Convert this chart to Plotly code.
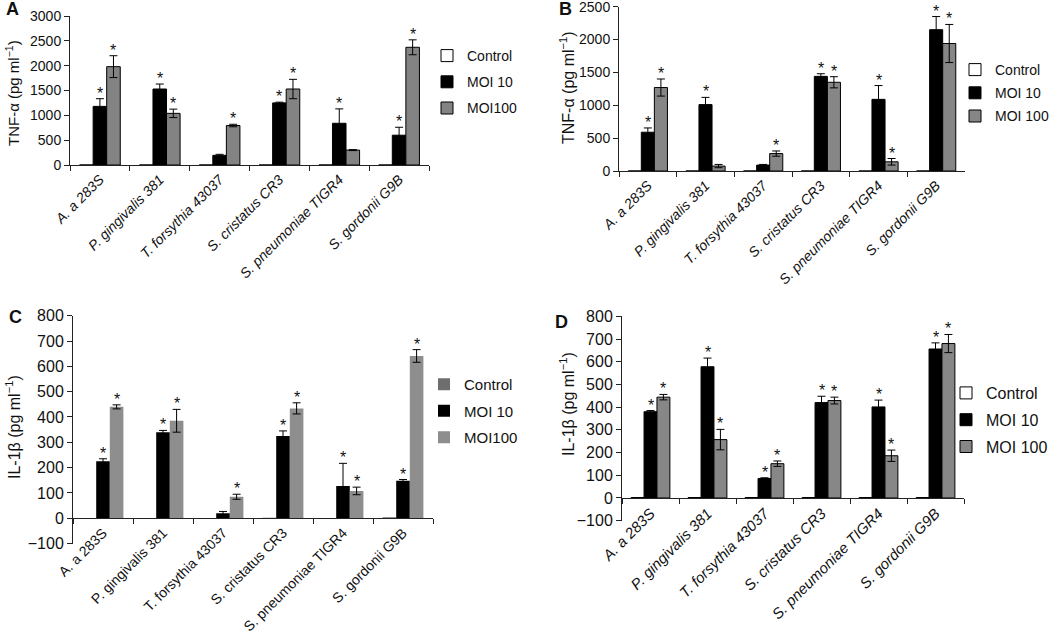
import plotly.graph_objects as go

# ---------------- data ----------------
categories = ["A. a 283S", "P. gingivalis 381", "T. forsythia 43037",
              "S. cristatus CR3", "S. pneumoniae TIGR4", "S. gordonii G9B"]

# Panel A: TNF-alpha
a_ctrl = [0, 0, 0, 0, 0, 0]
a_moi10 = [1180, 1530, 195, 1250, 840, 600]
a_moi10_err = [155, 100, 20, 15, 290, 160]
a_moi100 = [1980, 1040, 795, 1530, 300, 2370]
a_moi100_err = [220, 85, 25, 195, 10, 150]
a_sig10 = [1, 1, 0, 1, 1, 1]
a_sig100 = [1, 1, 1, 1, 0, 1]

# Panel B: TNF-alpha
b_ctrl = [0, 0, 0, 0, 0, 0]
b_moi10 = [590, 1010, 90, 1440, 1090, 2150]
b_moi10_err = [65, 110, 10, 40, 210, 200]
b_moi100 = [1270, 75, 265, 1350, 140, 1940]
b_moi100_err = [130, 25, 40, 85, 50, 290]
b_sig10 = [1, 1, 0, 1, 1, 1]
b_sig100 = [1, 0, 1, 1, 1, 1]

# Panel C: IL-1beta
c_ctrl = [0, 0, 0, 2, 0, 4]
c_moi10 = [225, 340, 20, 325, 127, 148]
c_moi10_err = [10, 7, 7, 20, 90, 5]
c_moi100 = [440, 385, 85, 434, 108, 641]
c_moi100_err = [8, 45, 10, 22, 15, 25]
c_sig10 = [1, 1, 0, 1, 1, 1]
c_sig100 = [1, 1, 1, 1, 1, 1]

# Panel D: IL-1beta
d_ctrl = [2, 2, 2, 2, 2, 2]
d_moi10 = [380, 578, 86, 420, 401, 656]
d_moi10_err = [5, 38, 3, 28, 30, 27]
d_moi100 = [444, 257, 151, 429, 186, 680]
d_moi100_err = [12, 45, 12, 15, 25, 40]
d_sig10 = [1, 1, 1, 1, 1, 1]
d_sig100 = [1, 1, 1, 1, 1, 1]

W, H = 1050, 640
FONT = "Arial, Liberation Sans, sans-serif"
BARGAP = 0.32


def fx(px):
    return px / W


def fy(py):
    return 1 - py / H


panels = [
    dict(key="", letter="A", ctrl=a_ctrl, m10=a_moi10, e10=a_moi10_err, m100=a_moi100, e100=a_moi100_err,
         s10=a_sig10, s100=a_sig100, n100="MOI100", xpx=(70, 429), ypx=(165, 16), yr=[0, 3000], dt=500,
         ctrl_col="white", g_col="#838383", outline=1, italic=True, tfs=14, xfs=14,
         title="TNF-α (pg ml<sup>−1</sup>)", tpos=(13, 93), tfsz=15, lpos=(427, 40), lfs=14, lgap=5,
         lpx=(12, 9)),
    dict(key="2", letter="B", ctrl=b_ctrl, m10=b_moi10, e10=b_moi10_err, m100=b_moi100, e100=b_moi100_err,
         s10=b_sig10, s100=b_sig100, n100="MOI 100", xpx=(619, 965), ypx=(171, 6.7), yr=[0, 2500], dt=500,
         ctrl_col="white", g_col="#868686", outline=1, italic=True, tfs=14, xfs=14,
         title="TNF-α (pg ml<sup>−1</sup>)", tpos=(567, 88), tfsz=16, lpos=(955, 54), lfs=14, lgap=2,
         lpx=(565, 9)),
    dict(key="3", letter="C", ctrl=c_ctrl, m10=c_moi10, e10=c_moi10_err, m100=c_moi100, e100=c_moi100_err,
         s10=c_sig10, s100=c_sig100, n100="MOI100", xpx=(73, 433), ypx=(543.6, 315.7), yr=[-100, 800], dt=100,
         ctrl_col="#6e6e6e", g_col="#8e8e8e", outline=0, italic=False, tfs=16, xfs=14,
         title="IL-1β (pg ml<sup>−1</sup>)", tpos=(13, 427), tfsz=16, lpos=(424, 368), lfs=15, lgap=4,
         lpx=(15, 317)),
    dict(key="4", letter="D", ctrl=d_ctrl, m10=d_moi10, e10=d_moi10_err, m100=d_moi100, e100=d_moi100_err,
         s10=d_sig10, s100=d_sig100, n100="MOI 100", xpx=(622, 964), ypx=(520.7, 316.3), yr=[-100, 800], dt=100,
         ctrl_col="white", g_col="#878787", outline=1, italic=True, tfs=16, xfs=15,
         title="IL-1β (pg ml<sup>−1</sup>)", tpos=(567, 404), tfsz=16, lpos=(946, 376), lfs=16, lgap=3,
         lpx=(561, 322)),
]

fig = go.Figure()
annotations = []
layout = dict(
    width=W, height=H, autosize=False, margin=dict(l=0, r=0, t=0, b=0, pad=0, autoexpand=False),
    paper_bgcolor="white", plot_bgcolor="white",
    barmode="group", bargap=BARGAP, bargroupgap=0,
    font=dict(family=FONT, color="#111111", size=14),
    showlegend=True,
)

for i, p in enumerate(panels):
    k = p["key"]
    xa = "x" + k
    ya = "y" + k
    lg = "legend" + k
    line_w = p["outline"]
    specs = [
        ("Control", p["ctrl"], None, p["ctrl_col"]),
        ("MOI 10", p["m10"], p["e10"], "black"),
        (p["n100"], p["m100"], p["e100"], p["g_col"]),
    ]
    for j, (name, vals, errs, col) in enumerate(specs):
        tr = dict(
            x=categories, y=vals, name=name, xaxis=xa, yaxis=ya, legend=lg,
            legendgroup=f"{p['letter']}{j}",
            marker=dict(color=col, line=dict(color="black", width=line_w)),
            hoverinfo="skip",
        )
        if errs is not None:
            tr["error_y"] = dict(type="data", array=errs, visible=True, color="black", thickness=1, width=4)
        fig.add_trace(go.Bar(**tr))

    x0, x1 = p["xpx"]
    ybot, ytop = p["ypx"]
    xdom = [fx(x0), fx(x1)]
    ydom = [fy(ybot), fy(ytop)]
    yr = p["yr"]
    xkey = "xaxis" + k
    ykey = "yaxis" + k
    tickfont = dict(family=FONT, size=p["xfs"], color="#111111")
    if p["italic"]:
        tickfont["style"] = "italic"
    xa_def = dict(
        domain=xdom, type="category", showline=True, linecolor="#222222", linewidth=1,
        ticks="outside", ticklen=5, tickcolor="#222222", tickson="boundaries",
        tickangle=-45, tickfont=tickfont, showgrid=False, zeroline=False, fixedrange=True,
        automargin=False, ticklabeloverflow="allow",
    )
    if yr[0] < 0:
        zero_frac = (0 - yr[0]) / (yr[1] - yr[0])
        xa_def["anchor"] = "free"
        xa_def["position"] = ydom[0] + zero_frac * (ydom[1] - ydom[0])
    else:
        xa_def["anchor"] = ya
    layout[xkey] = xa_def
    layout[ykey] = dict(
        domain=ydom, anchor=xa, range=yr, dtick=p["dt"], tick0=0, showline=True,
        linecolor="#222222", linewidth=1, ticks="outside", ticklen=5, tickcolor="#222222",
        tickfont=dict(family=FONT, size=p["tfs"], color="#111111"), showgrid=False,
        zeroline=False, fixedrange=True, automargin=False, ticklabeloverflow="allow",
    )
    # legend
    lx, ly = p["lpos"]
    layout[lg] = dict(
        x=fx(lx), y=fy(ly), xanchor="left", yanchor="top", xref="paper", yref="paper",
        font=dict(family=FONT, size=p["lfs"], color="#111111"),
        bgcolor="rgba(0,0,0,0)", traceorder="grouped", tracegroupgap=p["lgap"],
        itemclick=False, itemdoubleclick=False,
    )
    # asterisks
    cat_px = (x1 - x0) / len(categories)
    bar_px = cat_px * (1 - BARGAP) / 3
    for vals, errs, sig, shift in [(p["m10"], p["e10"], p["s10"], 0.0),
                                   (p["m100"], p["e100"], p["s100"], bar_px)]:
        for c, v, e, s in zip(categories, vals, errs, sig):
            if s:
                annotations.append(dict(
                    x=c, y=v + e, xref=xa, yref=ya, text="*", showarrow=False,
                    xanchor="center", yanchor="bottom", xshift=shift, yshift=-5,
                    font=dict(family=FONT, size=16, color="#111111"),
                ))
    # y-axis title
    tx, ty = p["tpos"]
    annotations.append(dict(
        x=fx(tx), y=fy(ty), xref="paper", yref="paper", text=p["title"], textangle=-90,
        showarrow=False, xanchor="center", yanchor="middle",
        font=dict(family=FONT, size=p["tfsz"], color="#111111"),
    ))
    # panel letter
    px_, py_ = p["lpx"]
    annotations.append(dict(
        x=fx(px_), y=fy(py_), xref="paper", yref="paper", text=f"<b>{p['letter']}</b>",
        showarrow=False, xanchor="center", yanchor="middle",
        font=dict(family=FONT, size=18, color="#111111"),
    ))

layout["annotations"] = annotations
fig.update_layout(**layout)
fig.write_html(
    "out.html",
    config={"displayModeBar": False, "staticPlot": True},
    post_script="document.body.style.margin='0';document.body.style.overflow='hidden';",
)
